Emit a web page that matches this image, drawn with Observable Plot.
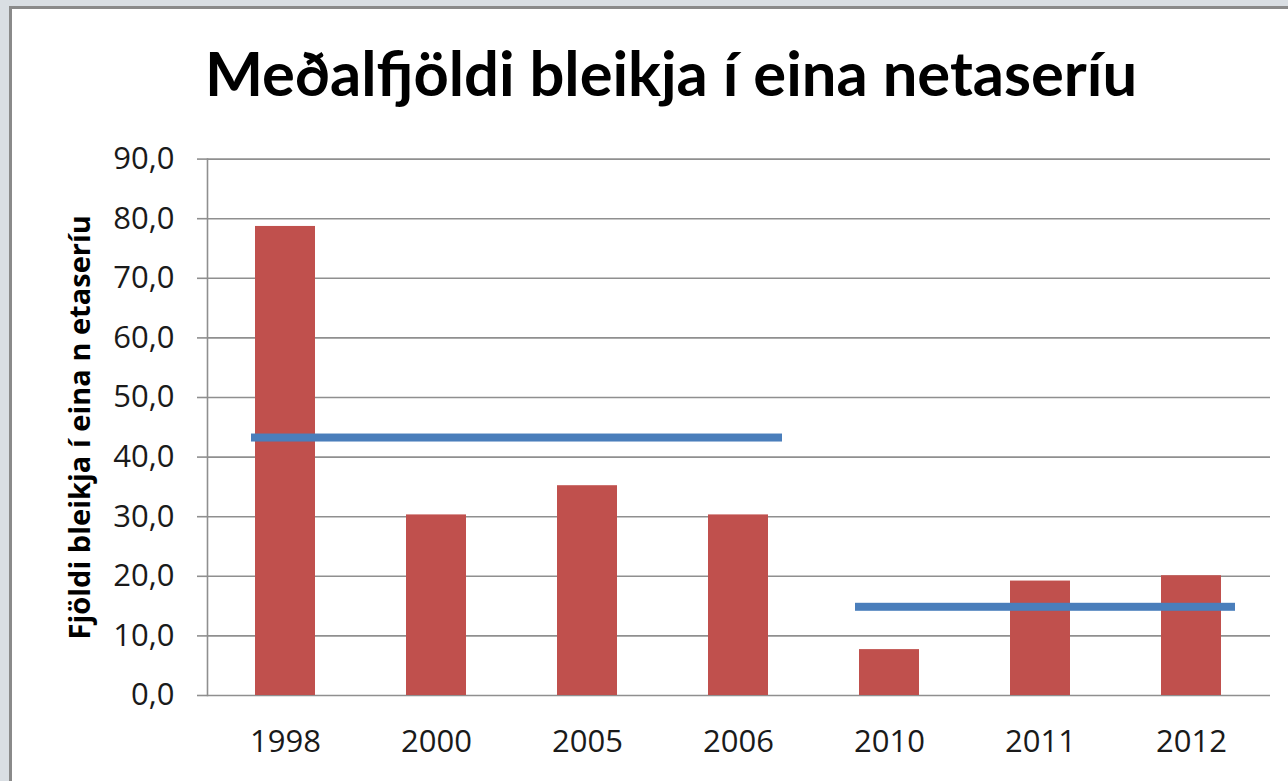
<!DOCTYPE html>
<html>
<head>
<meta charset="utf-8">
<script src="https://cdn.jsdelivr.net/npm/d3@7"></script>
<script src="https://cdn.jsdelivr.net/npm/@observablehq/plot@0.6"></script>
<style>
  html, body { margin: 0; padding: 0; width: 1288px; height: 781px; overflow: hidden; background: #d9dee3; }
  #frame { position: absolute; left: 9px; top: 6px; width: 1320px; height: 820px; border: 3px solid #8a8a8a; background: #ffffff; }
  #title { position: absolute; left: 0; top: 42px; width: 1342px; text-align: center; font-family: "Lato", "Open Sans", sans-serif; font-weight: 700; font-size: 61.5px; color: #000; line-height: 1; }
  #chart { position: absolute; left: 0; top: 120px; }
</style>
</head>
<body>
<div id="frame"></div>
<div id="title">Meðalfjöldi bleikja í eina netaseríu</div>
<div id="chart"></div>
<script>
// ---- data ----
const years = ["1998", "2000", "2005", "2006", "2010", "2011", "2012"];
const values = [78.7, 30.3, 35.2, 30.3, 7.7, 19.2, 20.1];
const periodFirst = ["1998", "2010"];
const periodLast = ["2006", "2012"];
const periodMeans = [43.2, 14.8];
const yTicks = [0, 10, 20, 30, 40, 50, 60, 70, 80, 90];
const yLabel = "Fjöldi bleikja í eina n etaseríu";

const bars = years.map((y, i) => ({year: y, value: values[i]}));
const means = periodMeans.map((m, k) => ({first: periodFirst[k], last: periodLast[k], mean: m}));

const fmt = d => d.toFixed(1).replace(".", ",");
const grid = "#8f8f8f";

const chart = Plot.plot({
  width: 1288,
  height: 661,
  marginLeft: 207,
  marginRight: 18,
  marginTop: 38.6,
  marginBottom: 86,
  style: {fontFamily: "'Open Sans', sans-serif", background: "transparent", color: "#1a1a1a"},
  x: {type: "band", domain: years, paddingInner: 0.6, paddingOuter: 0.3, axis: null},
  y: {domain: [0, 90], axis: null},
  marks: [
    Plot.ruleY(yTicks, {y: d => d, stroke: grid, strokeWidth: 1.6}),
    Plot.axisY({ticks: yTicks, tickFormat: fmt, tickSize: 10, tickPadding: 23, stroke: grid, strokeWidth: 1.6, fontSize: 31, label: null, fill: "#1a1a1a"}),
    Plot.frame({anchor: "left", stroke: grid, strokeWidth: 1.6}),
    Plot.barY(bars, {x: "year", y: "value", fill: "#c0504d"}),
    Plot.rect(means, {x1: "first", x2: "last", y1: "mean", y2: "mean", insetLeft: -4, insetRight: -14, insetTop: -4, insetBottom: -4, fill: "#4a7ebb"}),
    Plot.axisX({tickSize: 0, tickPadding: 34, fontSize: 31, label: null, fill: "#1a1a1a"}),
    Plot.text([yLabel], {frameAnchor: "left", rotate: -90, dx: -127, text: d => d, fontSize: 29, fontWeight: 700, fill: "#000", textAnchor: "middle", lineAnchor: "middle"})
  ]
});
document.getElementById("chart").appendChild(chart);
</script>
</body>
</html>
